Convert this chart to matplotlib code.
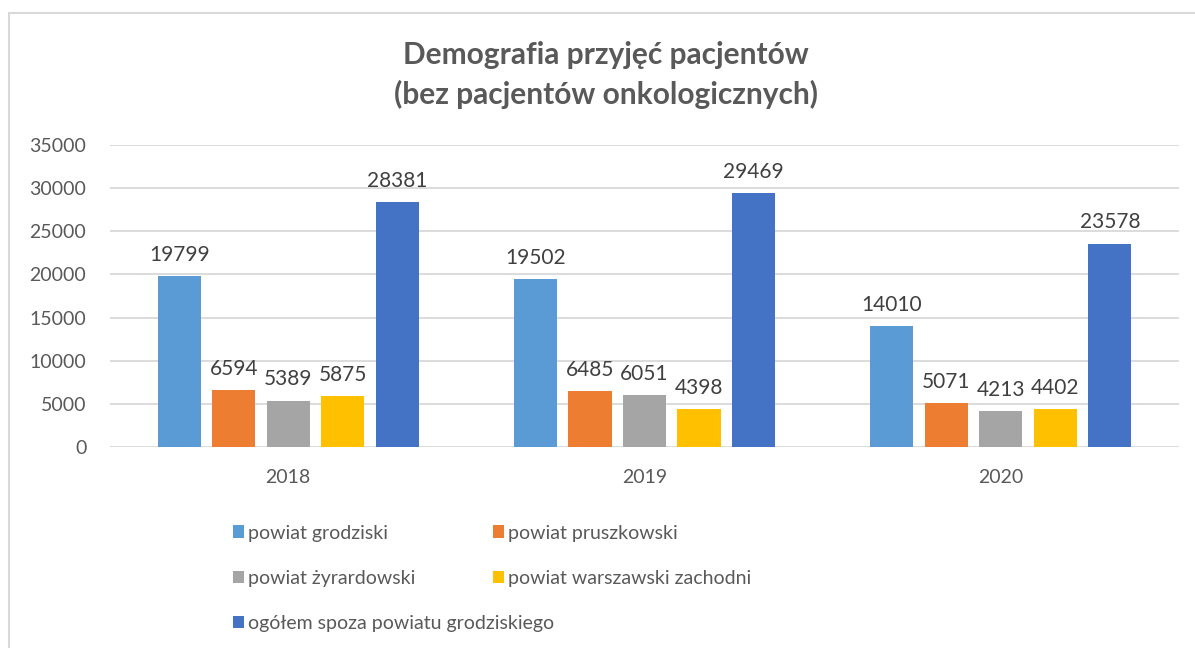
import matplotlib.pyplot as plt
from matplotlib.patches import Rectangle
import numpy as np

plt.rcParams['font.family'] = ['Lato', 'DejaVu Sans']

# Dane: przyjęcia pacjentów wg powiatu
years = ['2018', '2019', '2020']
series_names = ['powiat grodziski', 'powiat pruszkowski', 'powiat żyrardowski',
                'powiat warszawski zachodni', 'ogółem spoza powiatu grodziskiego']
grodziski = [19799, 19502, 14010]
pruszkowski = [6594, 6485, 5071]
zyrardowski = [5389, 6051, 4213]
warszawski_zach = [5875, 4398, 4402]
ogolem_spoza = [28381, 29469, 23578]
colors = ['#5B9BD5', '#ED7D31', '#A5A5A5', '#FFC000', '#4472C4']

series = [grodziski, pruszkowski, zyrardowski, warszawski_zach, ogolem_spoza]

fig = plt.figure(figsize=(11.95, 6.48), dpi=100)
ax = fig.add_axes([110 / 1195, 1 - 447 / 648, (1179 - 110) / 1195, (447 - 145) / 648])

x = np.arange(len(years))
step, width = 0.153, 0.121
handles = []
for i, (vals, name, col) in enumerate(zip(series, series_names, colors)):
    bars = ax.bar(x + (i - 2) * step, vals, width, color=col, label=name, zorder=3)
    handles.append(bars)
    for rect, v in zip(bars, vals):
        ax.annotate(str(v), (rect.get_x() + rect.get_width() / 2, v),
                    xytext=(0, 8), textcoords='offset points',
                    ha='center', va='bottom', fontsize=15, color='#404040')

ax.set_xlim(-0.5, 2.5)
ax.set_ylim(0, 35000)
ax.set_yticks(range(0, 35001, 5000))
ax.set_xticks(x, years)
ax.grid(axis='y', color='#d9d9d9', linewidth=1.3, zorder=0)
for s in ax.spines.values():
    s.set_visible(False)
ax.tick_params(length=0, labelsize=14, colors='#595959')
ax.tick_params(axis='y', pad=17)
ax.tick_params(axis='x', pad=16)

fig.text(0.507, 1 - 75 / 648, 'Demografia przyjęć pacjentów\n(bez pacjentów onkologicznych)',
         ha='center', va='center', fontsize=21.5, fontweight='bold', color='#595959',
         linespacing=1.45)

# legenda w dwóch kolumnach, jak w arkuszu
leg_kw = dict(frameon=False, fontsize=14, labelcolor='#595959', handlelength=0.6,
              handleheight=0.6, handletextpad=0.2, labelspacing=1.45, loc='upper left')
fig.legend([handles[0], handles[2], handles[4]],
           [series_names[0], series_names[2], series_names[4]],
           bbox_to_anchor=(215 / 1195, 1 - 507 / 648), **leg_kw)
fig.legend([handles[1], handles[3]], [series_names[1], series_names[3]],
           bbox_to_anchor=(475 / 1195, 1 - 507 / 648), **leg_kw)

# ramka obszaru wykresu
fig.patches.append(Rectangle((9 / 1195, -0.1), 1.2, 1.1 - 13 / 648,
                             transform=fig.transFigure, fill=False,
                             edgecolor='#d9d9d9', linewidth=1.5))

fig.savefig('out.png', dpi=100, facecolor='white')
